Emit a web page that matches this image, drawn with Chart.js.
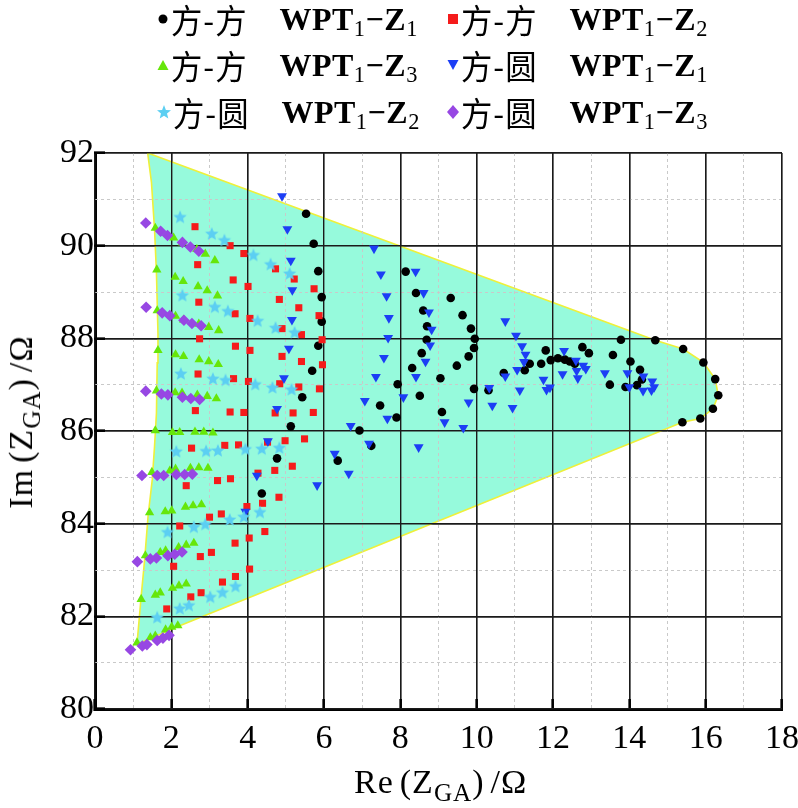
<!DOCTYPE html>
<html>
<head>
<meta charset="utf-8">
<script src="https://cdn.jsdelivr.net/npm/chart.js@4.4.1/dist/chart.umd.min.js"></script>
<style>
  html,body{margin:0;padding:0;background:#fff;}
  #wrap{position:relative;width:798px;height:808px;overflow:hidden;}
  #chart{position:absolute;left:0;top:0;}
  .lg{position:absolute;display:flex;align-items:center;height:44px;white-space:nowrap;color:#000;}
  .lg svg{flex:none;}
  .cjk{font-family:"Noto Sans CJK SC";font-size:33px;margin-left:1px;letter-spacing:1px;transform:scaleX(0.95);transform-origin:left center;}
  .lat{font-family:"Liberation Serif";font-weight:bold;font-size:32px;margin-left:28px;letter-spacing:0.5px;}
  .lat sub{font-weight:normal;font-size:0.7em;vertical-align:baseline;position:relative;top:0.3em;}
  .ttl{position:absolute;font-family:"Liberation Serif";font-size:34px;color:#000;white-space:nowrap;letter-spacing:1px;}
  .ttl sub{font-size:0.74em;vertical-align:baseline;position:relative;top:0.3em;}
  .gap{display:inline-block;width:6px;}
</style>
</head>
<body>
<div id="wrap">
  <canvas id="chart" width="798" height="808"></canvas>
  <div id="legend"></div>
  <div class="ttl" id="xt" style="left:354px;top:763px;">Re<span class="gap"></span>(Z<sub>GA</sub>)<span class="gap"></span>/Ω</div>
  <div class="ttl" id="yt" style="left:21px;top:422px;transform:translate(-50%,-50%) rotate(-90deg);">Im<span class="gap"></span>(Z<sub>GA</sub>)<span class="gap"></span>/Ω</div>
</div>
<script>
const $ = (id)=>document.getElementById(id);

// axis ranges / ticks
const xRange = [0, 18];
const yRange = [80, 92];
const majorStep = 2;

// legend names
const seriesNames = ['方-方', '方-方', '方-方', '方-圆', '方-圆', '方-圆'];
const seriesSubs = ['1', '2', '3', '1', '2', '3'];
const seriesColors = ['#000000', '#F51B1B', '#66E60A', '#1C3EF5', '#5CCFF2', '#9747E3'];

// 方-方 WPT1-Z1 (black dots)
const sqZ1 = [
  [5.53,90.69],[5.73,90.04],[5.85,89.45],[5.94,88.89],[5.94,88.36],[5.85,87.84],[5.69,87.30],[5.43,86.73],
  [5.13,86.10],[4.77,85.41],[4.37,84.65],[6.36,85.36],[6.93,86.01],[7.24,85.68],[7.47,86.55],[7.90,86.29],
  [7.93,87.01],[8.31,87.36],[8.56,87.68],[8.69,87.97],[8.70,88.26],[8.60,88.60],[8.41,88.98],[8.14,89.44],
  [8.51,86.76],[9.05,87.14],[9.09,86.41],[9.32,88.87],[9.63,88.50],[9.85,88.21],[9.95,87.99],[9.93,87.79],
  [9.79,87.61],[9.48,87.41],[9.93,86.91],[10.31,86.88],[10.71,87.25],[11.26,87.31],[11.39,87.45],[11.69,87.45],
  [11.81,87.74],[11.94,87.53],[12.13,87.57],[12.31,87.54],[12.44,87.50],[12.57,87.45],[12.77,87.81],[12.94,87.68],
  [13.49,87.00],[13.57,87.64],[13.78,87.97],[13.90,86.95],[14.03,87.50],[14.20,86.99],[14.28,87.32],[14.33,87.11],
  [14.68,87.96],[15.41,87.77],[15.94,87.48],[16.25,87.12],[16.33,86.77],[16.19,86.48],[15.86,86.27],[15.39,86.19]
];

// 方-方 WPT1-Z2 (red squares)
const sqZ2 = [
  [2.62,90.41],[3.54,90.00],[3.90,89.83],[4.73,89.50],[5.22,89.28],[5.74,89.07],
  [2.69,89.59],[3.62,89.26],[4.01,89.12],[4.83,88.84],[5.34,88.66],[5.87,88.49],
  [2.72,88.78],[3.67,88.53],[4.06,88.43],[4.90,88.21],[5.41,88.08],[5.95,87.97],
  [2.74,87.99],[3.68,87.83],[4.06,87.74],[4.90,87.61],[5.41,87.50],[5.96,87.43],
  [2.70,87.23],[3.63,87.13],[4.02,87.07],[4.84,87.02],[5.34,86.95],[5.88,86.91],
  [2.63,86.44],[3.54,86.41],[3.90,86.40],[4.72,86.39],[5.19,86.39],[5.72,86.40],
  [2.53,85.63],[3.40,85.69],[3.76,85.70],[4.52,85.76],[4.98,85.79],[5.49,85.83],
  [2.39,84.82],[3.21,84.93],[3.55,84.97],[4.27,85.09],[4.71,85.15],[5.17,85.24],
  [2.22,83.95],[3.00,84.14],[3.31,84.21],[3.98,84.37],[4.39,84.44],[4.82,84.57],
  [2.06,83.08],[2.76,83.29],[3.05,83.38],[3.67,83.58],[4.04,83.69],[4.45,83.83],
  [1.88,82.16],[2.51,82.42],[2.78,82.51],[3.34,82.74],[3.68,82.86],[4.05,83.02]
];

// 方-方 WPT1-Z3 (green triangles)
const sqZ3 = [
  [1.58,90.38],[2.06,90.17],[2.29,90.06],[2.67,89.92],[2.89,89.82],[3.14,89.68],
  [1.62,89.48],[2.10,89.32],[2.31,89.23],[2.70,89.12],[2.94,89.03],[3.21,88.92],
  [1.63,88.60],[2.11,88.48],[2.32,88.40],[2.72,88.31],[2.98,88.24],[3.24,88.17],
  [1.65,87.74],[2.11,87.65],[2.32,87.61],[2.73,87.54],[2.98,87.50],[3.23,87.44],
  [1.61,86.87],[2.10,86.83],[2.28,86.82],[2.68,86.78],[2.94,86.75],[3.18,86.70],
  [1.58,86.01],[2.03,85.97],[2.22,85.97],[2.62,85.98],[2.85,85.98],[3.09,85.96],
  [1.49,85.11],[1.96,85.14],[2.11,85.18],[2.50,85.20],[2.72,85.21],[2.96,85.20],
  [1.43,84.24],[1.84,84.26],[2.01,84.28],[2.37,84.36],[2.57,84.39],[2.79,84.41],
  [1.32,83.31],[1.71,83.38],[1.85,83.42],[2.19,83.49],[2.39,83.54],[2.59,83.58],
  [1.21,82.37],[1.58,82.46],[1.71,82.51],[2.03,82.61],[2.20,82.66],[2.39,82.70],
  [1.10,81.43],[1.45,81.54],[1.58,81.58],[1.85,81.71],[2.01,81.77],[2.17,81.80]
];

// 方-圆 WPT1-Z1 (blue down triangles)
const ciZ1 = [
  [4.90,91.07],[5.04,90.36],[5.13,89.68],[5.17,89.04],[5.16,88.40],[5.08,87.78],[4.95,87.14],[4.77,86.48],
  [4.53,85.78],[4.24,85.04],[3.94,84.26],[5.82,84.83],[7.31,89.94],[7.49,89.38],[7.64,88.91],[7.70,88.44],
  [7.68,88.01],[7.57,87.58],[7.36,87.17],[7.07,86.65],[6.70,86.11],[6.28,85.51],[6.65,85.08],[7.66,86.27],
  [7.18,85.73],[8.40,89.44],[8.61,88.98],[8.75,88.56],[8.82,88.19],[8.78,87.85],[8.66,87.50],[8.41,87.17],
  [8.08,86.73],[8.48,85.65],[9.16,86.19],[9.65,86.07],[9.79,86.62],[10.33,86.93],[10.41,86.55],[10.94,86.50],
  [11.13,86.88],[11.75,87.11],[11.83,86.89],[10.75,88.37],[11.03,88.06],[11.19,87.83],[11.28,87.65],[11.24,87.49],
  [11.06,87.32],[10.75,87.18],[11.92,86.94],[12.29,87.73],[12.60,87.52],[12.79,87.41],[12.86,87.34],[12.62,87.30],
  [12.25,87.23],[12.65,87.14],[13.36,87.25],[13.95,87.25],[14.37,87.18],[14.60,87.07],[14.65,86.95],[14.58,86.88],
  [14.36,86.87],[14.00,86.95]
];

// 方-圆 WPT1-Z2 (cyan stars)
const ciZ2 = [
  [2.23,90.61],[3.06,90.25],[3.39,90.11],[4.15,89.79],[4.60,89.59],[5.10,89.39],
  [2.29,88.92],[3.14,88.67],[3.48,88.58],[4.26,88.37],[4.73,88.22],[5.23,88.12],
  [2.25,87.23],[3.09,87.12],[3.42,87.09],[4.20,87.00],[4.65,86.93],[5.15,86.89],
  [2.13,85.55],[2.91,85.56],[3.22,85.57],[3.94,85.60],[4.37,85.61],[4.83,85.63],
  [1.90,83.81],[2.59,83.92],[2.89,83.98],[3.53,84.08],[3.90,84.14],[4.32,84.24],
  [1.63,81.97],[2.22,82.16],[2.46,82.23],[3.02,82.41],[3.34,82.51],[3.68,82.64]
];

// 方-圆 WPT1-Z3 (purple diamonds)
const ciZ3 = [
  [1.33,90.49],[1.72,90.31],[1.90,90.22],[2.29,90.07],[2.50,89.97],[2.72,89.88],
  [1.34,88.67],[1.76,88.55],[1.96,88.49],[2.33,88.39],[2.54,88.32],[2.78,88.27],
  [1.33,86.86],[1.74,86.80],[1.91,86.78],[2.29,86.73],[2.51,86.70],[2.74,86.68],
  [1.23,85.04],[1.63,85.04],[1.80,85.04],[2.13,85.06],[2.35,85.06],[2.55,85.07],
  [1.11,83.18],[1.45,83.24],[1.61,83.26],[1.91,83.31],[2.09,83.34],[2.28,83.39],
  [0.93,81.28],[1.24,81.36],[1.36,81.39],[1.63,81.48],[1.78,81.53],[1.94,81.59]
];

// region boundary (shaded area)
const region = [
  [1.38,92.00],[14.68,87.96],[15.41,87.77],[15.94,87.48],[16.25,87.12],[16.33,86.77],[16.19,86.48],
  [15.86,86.27],[15.39,86.19],[2.17,81.78],[1.10,81.40],[1.21,82.43],[1.30,83.22],[1.39,84.16],
  [1.50,84.95],[1.56,85.67],[1.61,86.39],[1.63,87.47],[1.65,88.10],[1.61,89.41],[1.56,90.35],
  [1.48,91.36],[1.38,92.00]
];

const pts = (arr)=> arr.map(([x,y])=>({x,y}));

function starCanvas(color, r){
  const s = Math.ceil(r*2+2);
  const c = document.createElement('canvas');
  c.width = s; c.height = s;
  const g = c.getContext('2d');
  g.beginPath();
  for(let i=0;i<10;i++){
    const a = -Math.PI/2 + i*Math.PI/5;
    const rr = i%2 ? r*0.45 : r;
    g.lineTo(s/2 + rr*Math.cos(a), s/2 + rr*Math.sin(a));
  }
  g.closePath(); g.fillStyle = color; g.fill();
  return c;
}

// redraw grid lines on top of the shaded region
const gridOnTop = {
  id:'gridOnTop',
  afterDatasetDraw(chart, args){
    if(args.meta.order !== 10) return;
    ['xm','ym','x','y'].forEach(k=>{ chart.scales[k].drawGrid(chart.chartArea); });
  }
};

const mk = (data, color, style, radius, order, extra)=> Object.assign({
  data: pts(data), pointStyle: style, pointRadius: radius, pointHoverRadius: radius,
  backgroundColor: color, borderColor: color, borderWidth: 0, showLine:false, order
}, extra||{});

const datasets = [
  mk(sqZ1, seriesColors[0], 'circle', 4.3, 6),
  mk(sqZ2, seriesColors[1], 'rect', 5, 5),
  mk(sqZ3, seriesColors[2], 'triangle', 5.4, 4),
  mk(ciZ1, seriesColors[3], 'triangle', 5.7, 3, {rotation:180}),
  mk(ciZ2, seriesColors[4], starCanvas(seriesColors[4], 7), 6, 2),
  mk(ciZ3, seriesColors[5], 'rectRot', 5.8, 1),
  { data: pts(region), showLine:true, fill:'shape', tension:0, pointRadius:0, pointHoverRadius:0,
    borderColor:'#EEF03A', borderWidth:1.6, backgroundColor:'#96FADC', order:10 }
];

const tickFont = { family:'Liberation Serif', size:34 };
const majorGrid = { color:'#1a1a1a', lineWidth:1.4, drawTicks:true, tickLength:-10, tickWidth:2.2, tickColor:'#000' };
const minorGrid = (ctx)=> (ctx.tick && Math.round(ctx.tick.value) % 2 !== 0) ? '#c9c9c9' : 'rgba(0,0,0,0)';

new Chart($('chart').getContext('2d'), {
  type:'scatter',
  data:{ datasets },
  options:{
    responsive:false, animation:false, devicePixelRatio:1,
    layout:{ padding:{ top:153, right:16, left:0, bottom:0 } },
    plugins:{ legend:{ display:false }, tooltip:{ enabled:false } },
    scales:{
      x:{ type:'linear', position:'bottom', min:xRange[0], max:xRange[1],
          ticks:{ stepSize:majorStep, color:'#000', font:tickFont, padding:20, maxRotation:0 },
          grid: majorGrid, border:{ color:'#000', width:3 },
          afterFit:(s)=>{ s.height = 99; s.paddingLeft = 0; s.paddingRight = 0; } },
      y:{ type:'linear', position:'left', min:yRange[0], max:yRange[1],
          ticks:{ stepSize:majorStep, color:'#000', font:tickFont, padding:11 },
          grid: majorGrid, border:{ color:'#000', width:3 },
          afterFit:(s)=>{ s.width = 95; s.paddingTop = 0; s.paddingBottom = 0; } },
      xm:{ type:'linear', position:'bottom', min:xRange[0], max:xRange[1],
          ticks:{ display:false, stepSize:1 },
          grid:{ color:minorGrid, lineWidth:1, drawTicks:false },
          border:{ display:false, dash:[3,3] },
          afterFit:(s)=>{ s.height = 0; s.paddingLeft = 0; s.paddingRight = 0; } },
      ym:{ type:'linear', position:'left', min:yRange[0], max:yRange[1],
          ticks:{ display:false, stepSize:1 },
          grid:{ color:minorGrid, lineWidth:1, drawTicks:false },
          border:{ display:false, dash:[3,3] },
          afterFit:(s)=>{ s.width = 0; s.paddingTop = 0; s.paddingBottom = 0; } }
    }
  },
  plugins:[gridOnTop]
});

// legend
const markerSvg = [
  `<svg width="14" height="14"><circle cx="7" cy="7" r="4.5" fill="${seriesColors[0]}"/></svg>`,
  `<svg width="14" height="14"><rect x="2" y="2" width="10" height="10" fill="${seriesColors[1]}"/></svg>`,
  `<svg width="14" height="14"><polygon points="7,2 12.5,12 1.5,12" fill="${seriesColors[2]}"/></svg>`,
  `<svg width="14" height="14"><polygon points="1.5,2 12.5,2 7,12" fill="${seriesColors[3]}"/></svg>`,
  `<svg width="16" height="16"><polygon points="8,1 9.9,5.9 15,6.2 11,9.5 12.3,14.6 8,11.8 3.7,14.6 5,9.5 1,6.2 6.1,5.9" fill="${seriesColors[4]}"/></svg>`,
  `<svg width="14" height="16"><polygon points="7,1 13,8 7,15 1,8" fill="${seriesColors[5]}"/></svg>`
];
const legendLeft = [156, 446];
const legendTop = [-3, 43, 90];
$('legend').innerHTML = seriesNames.map((n,i)=>{
  const left = legendLeft[i%2], top = legendTop[Math.floor(i/2)];
  return `<div class="lg" style="left:${left}px;top:${top}px;">${markerSvg[i]}<span class="cjk">${n}</span>`+
         `<span class="lat">WPT<sub>1</sub>−Z<sub>${seriesSubs[i]}</sub></span></div>`;
}).join('');
</script>
</body>
</html>
